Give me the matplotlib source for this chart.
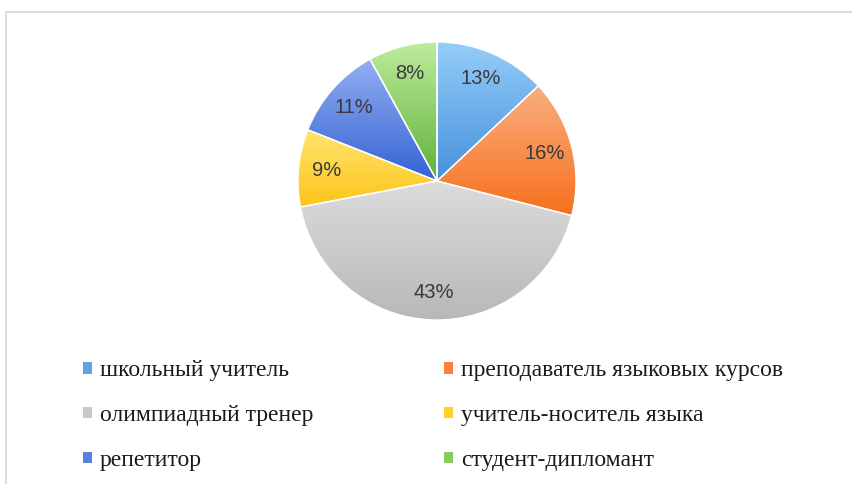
import numpy as np
import matplotlib
matplotlib.use("Agg")
import matplotlib.pyplot as plt
from matplotlib.patches import Rectangle, Wedge, Patch
from matplotlib.colors import to_rgb

categories = ["школьный учитель", "преподаватель языковых курсов", "олимпиадный тренер",
              "учитель-носитель языка", "репетитор", "студент-дипломант"]
values = [13, 16, 43, 9, 11, 8]
colors = ["#5aa5e8", "#f8843a", "#c8c8c8", "#ffd02a", "#5a7fe0", "#86cc5a"]
tops = ["#94cdf8", "#f9ae80", "#dcdcdc", "#ffe56e", "#93aef2", "#bcec9c"]
bottoms = ["#4690dc", "#f7701c", "#b8b8b8", "#fdc41a", "#3463d4", "#62b03a"]

W, H = 853, 484
fig = plt.figure(figsize=(W / 100, H / 100), dpi=100)
fig.patch.set_facecolor("white")

# chart border
fig.patches.append(Rectangle((6 / W, -0.1), 1.2, 1 - 12 / H + 0.1, transform=fig.transFigure,
                             fill=False, edgecolor="#d4d4d4", linewidth=1.2))

cx, cy, r = 437, 181, 139
ax = fig.add_axes([(cx - r) / W, 1 - (cy + r) / H, 2 * r / W, 2 * r / H])
wedges, texts, autotexts = ax.pie(values, colors=colors, startangle=90, counterclock=False,
                                  autopct="%d%%", pctdistance=0.8, radius=1,
                                  wedgeprops=dict(linewidth=1.0, edgecolor="white"),
                                  textprops=dict(fontsize=14.5, color="#3a3a3a",
                                                 family="Liberation Sans"))
ax.set_aspect("equal")
ax.axis("off")

# gradient fills clipped to each wedge
for w, t, b in zip(wedges, tops, bottoms):
    path = w.get_path().transformed(w.get_patch_transform())
    ext = path.get_extents()
    n = 64
    tc, bc = np.array(to_rgb(t)), np.array(to_rgb(b))
    f = np.linspace(0, 1, n)[:, None]
    grad = (tc * (1 - f) + bc * f)[:, None, :]
    im = ax.imshow(grad, extent=[ext.x0, ext.x1, ext.y0, ext.y1], aspect="auto",
                   origin="upper", zorder=2, interpolation="bilinear")
    im.set_clip_path(w)
for w in wedges:
    ax.add_patch(Wedge(w.center, w.r, w.theta1, w.theta2, facecolor="none",
                       edgecolor="white", linewidth=1.0, zorder=3))
for t in autotexts:
    t.set_zorder(5)
ax.set_xlim(-1.0, 1.0)
ax.set_ylim(-1.0, 1.0)

# legend (row-wise order, 2 columns)
order = [0, 2, 4, 1, 3, 5]
handles = [Patch(facecolor=colors[i], edgecolor="none") for i in order]
labels = [categories[i] for i in order]
leg = fig.legend(handles, labels, ncol=2, loc="upper left",
                 bbox_to_anchor=(74 / W, 1 - 351 / H), frameon=False,
                 prop=dict(family="Liberation Serif", size=17),
                 handlelength=0.35, handleheight=0.35, handletextpad=0.35,
                 columnspacing=5.55, labelspacing=1.0, borderaxespad=0)
for txt in leg.get_texts():
    txt.set_color("#1a1a1a")

fig.savefig("out.png", dpi=100)
